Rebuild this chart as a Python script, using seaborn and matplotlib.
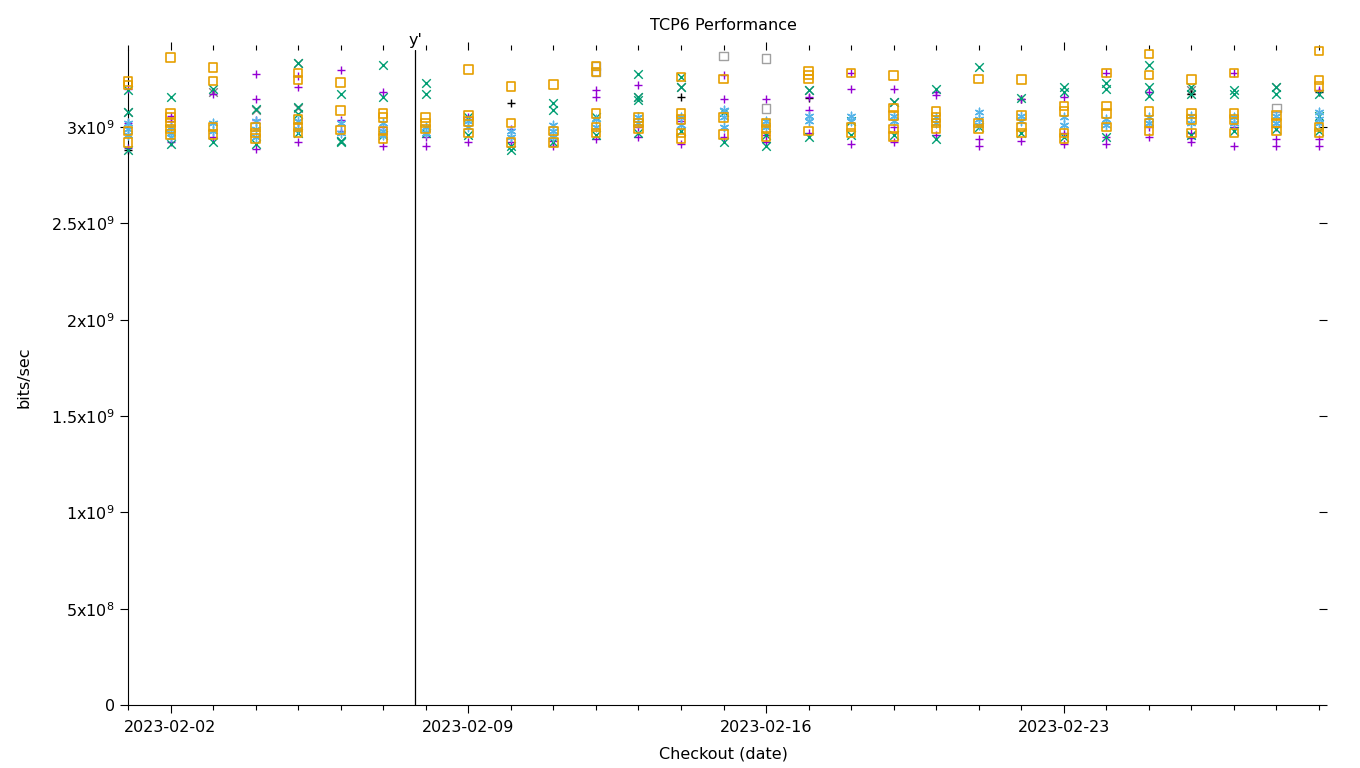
import pandas as pd
import matplotlib
matplotlib.use("Agg")
import matplotlib.pyplot as plt
import matplotlib.dates as mdates
import matplotlib.transforms as mtransforms
import seaborn as sns

# checkout dates, one column of points per day
dates = pd.date_range("2023-02-01", "2023-03-01", freq="D")

# values in units of 1e9 bits/sec, one list per day
purple_vals = [
    [3.20, 3.02, 2.89], [3.06, 3.03, 2.92], [3.17, 2.95], [3.275, 3.145, 3.036, 2.887],
    [3.265, 3.21, 3.02, 2.92], [3.294, 3.036, 2.98], [3.18, 3.00, 2.90], [2.95, 2.90],
    [3.05, 2.92], [2.99, 2.92], [2.93, 2.90], [3.19, 3.154, 2.94],
    [3.22, 3.00, 2.95], [3.03, 2.91], [3.27, 3.144, 2.95], [3.144, 2.96, 2.92],
    [3.154, 3.09, 2.97], [3.28, 3.20, 2.91], [3.20, 3.00, 2.92], [3.18, 3.166, 2.96],
    [2.94, 2.90], [3.148, 2.93], [3.154, 2.97, 2.91], [3.28, 2.95, 2.91],
    [3.18, 3.00, 2.95], [2.97, 2.945, 2.92], [3.28, 3.00, 2.90], [3.00, 2.94, 2.90],
    [3.19, 2.94, 2.90],
]
green_vals = [
    [3.19, 3.08, 2.88], [3.154, 2.91], [3.20, 2.92], [3.093, 2.91],
    [3.33, 3.105, 3.067, 2.97], [3.17, 2.93, 2.92], [3.32, 3.157, 2.96], [3.23, 3.17, 2.97],
    [3.05, 2.96], [2.90, 2.88], [3.126, 3.088, 2.92], [3.05, 2.96],
    [3.273, 3.155, 3.14, 2.97], [3.26, 3.21, 2.98], [3.08, 2.92], [2.96, 2.90],
    [3.19, 2.95], [3.03, 2.96], [3.13, 2.96], [3.20, 2.94],
    [3.31, 3.00], [3.15, 2.97], [3.21, 3.18, 2.95], [3.23, 3.20, 2.95],
    [3.32, 3.21, 3.16], [3.21, 3.17, 2.96], [3.19, 3.17, 2.98], [3.21, 3.17, 2.99],
    [3.17, 3.06, 2.98],
]
blue_vals = [
    [3.02, 2.99, 2.96], [3.00, 2.97, 2.95], [3.02, 2.98], [3.03, 2.99, 2.95],
    [3.03, 2.99], [3.02, 2.97], [3.02, 2.98, 2.96], [3.00, 2.97],
    [3.03, 3.00], [2.98, 2.95], [3.01, 2.98, 2.95], [3.04, 3.00],
    [3.05, 3.02], [3.05, 3.01], [3.09, 3.05, 3.00], [3.03, 3.00],
    [3.06, 3.03], [3.06, 3.03], [3.06, 3.03], [3.05, 3.02],
    [3.08, 3.04, 3.01], [3.06, 3.03], [3.05, 3.01], [3.04, 3.01],
    [3.05, 3.02], [3.06, 3.02], [3.05, 3.02], [3.06, 3.02],
    [3.08, 3.04, 3.02],
]
orange_vals = [
    [3.236, 3.219, 2.98, 2.92], [3.36, 3.07, 3.05, 3.02, 2.99, 2.96], [3.31, 3.24, 3.00, 2.96],
    [3.00, 2.97, 2.94], [3.28, 3.244, 3.04, 3.00, 2.97], [3.23, 3.087, 2.985],
    [3.07, 3.05, 2.98, 2.94], [3.05, 3.02, 2.99], [3.30, 3.06, 3.03, 2.97],
    [3.21, 3.02, 2.92], [3.22, 2.98, 2.92], [3.317, 3.285, 3.07, 3.00, 2.97],
    [3.05, 3.02, 2.99], [3.26, 3.07, 3.04, 2.97, 2.94], [3.25, 3.05, 2.96],
    [3.02, 2.99, 2.95], [3.29, 3.27, 3.25, 2.98], [3.28, 3.00, 2.97],
    [3.268, 3.10, 3.06, 2.99, 2.95], [3.08, 3.05, 3.02, 2.99], [3.25, 3.02, 2.99],
    [3.247, 3.06, 3.00, 2.97], [3.11, 3.08, 2.97, 2.94], [3.28, 3.11, 3.07, 3.00],
    [3.38, 3.27, 3.08, 3.02, 2.98], [3.247, 3.07, 3.04, 2.97], [3.28, 3.07, 3.04, 2.97],
    [3.06, 3.02, 2.98], [3.394, 3.245, 3.21, 3.00, 2.97],
]
# sparse extra series (day index, value)
black_days = [0, 9, 13, 16, 21, 25, 28]
black_vals = [2.88, 3.125, 3.155, 3.15, 3.148, 3.17, 3.18]
grey_x_days = [0, 2, 3, 4, 4, 5, 12, 13, 16, 18, 25, 27]
grey_x_vals = [3.08, 3.18, 3.09, 3.33, 3.10, 2.93, 3.155, 3.21, 3.19, 3.13, 3.19, 3.21]
grey_sq_days = [11, 11, 14, 15, 15, 27]
grey_sq_vals = [3.317, 3.285, 3.368, 3.356, 3.097, 3.10]

marker_date = pd.Timestamp("2023-02-07 18:00")
ytick_vals = [0, 5e8, 1e9, 1.5e9, 2e9, 2.5e9, 3e9]
ytick_labels = ["0", r"5x10$^{8}$", r"1x10$^{9}$", r"1.5x10$^{9}$",
                r"2x10$^{9}$", r"2.5x10$^{9}$", r"3x10$^{9}$"]


def per_day_frame(vals):
    rows = [(dates[i], v * 1e9) for i, day in enumerate(vals) for v in day]
    return pd.DataFrame(rows, columns=["date", "bps"])


def sparse_frame(days, vals):
    return pd.DataFrame({"date": [dates[d] for d in days], "bps": [v * 1e9 for v in vals]})


sns.set_style("ticks")
plt.rcParams["font.family"] = ["DejaVu Sans"]
plt.rcParams["font.size"] = 11.5
plt.rcParams["mathtext.default"] = "regular"
for key in ["text.color", "axes.labelcolor", "xtick.color", "ytick.color", "axes.edgecolor"]:
    plt.rcParams[key] = "black"

fig, ax = plt.subplots(figsize=(13.6, 7.68), dpi=100)
fig.subplots_adjust(left=128 / 1360, right=1319 / 1360, bottom=63 / 768, top=718 / 768)

ms = 38
common = dict(x="date", y="bps", ax=ax, s=ms, clip_on=False, zorder=3)
sns.scatterplot(data=sparse_frame(grey_sq_days, grey_sq_vals), marker="s",
                facecolor="none", edgecolor="#a0a0a0", linewidth=1, **common)
sns.scatterplot(data=sparse_frame(grey_x_days, grey_x_vals), marker="x",
                color="#808080", linewidth=1, **common)
sns.scatterplot(data=sparse_frame(black_days, black_vals), marker="+",
                color="black", linewidth=1, **common)
sns.scatterplot(data=per_day_frame(purple_vals), marker="+",
                color="#9400d3", linewidth=1, **common)
sns.scatterplot(data=per_day_frame(green_vals), marker="x",
                color="#009e73", linewidth=1, **common)
sns.scatterplot(data=per_day_frame(blue_vals), marker=(6, 2, 0),
                color="#56b4e9", linewidth=1, **common)
sns.scatterplot(data=per_day_frame(orange_vals), marker="s",
                facecolor="none", edgecolor="#e69f00", linewidth=1.2, **common)

# event marker
ax.axvline(marker_date, color="black", linewidth=0.9)
trans = mtransforms.blended_transform_factory(ax.transData, ax.transAxes)
ax.text(marker_date, 1.003, "y'", transform=trans, ha="center", va="bottom")

ax.set_xlim(dates[0], dates[-1])
ax.set_ylim(0, 3.4e9)
ax.set_yticks(ytick_vals)
ax.set_yticklabels(ytick_labels)
ax.xaxis.set_major_locator(mdates.DayLocator(bymonthday=[2, 9, 16, 23]))
ax.xaxis.set_minor_locator(mdates.DayLocator())
ax.xaxis.set_major_formatter(mdates.DateFormatter("%Y-%m-%d"))

for side in ["top", "right"]:
    ax.spines[side].set_visible(False)
for side in ["left", "bottom"]:
    ax.spines[side].set_linewidth(0.8)
ax.tick_params(axis="x", which="major", direction="out", length=6, width=0.8, top=True, pad=5)
ax.tick_params(axis="x", which="minor", direction="out", length=3.5, width=0.8, top=True)
ax.tick_params(axis="y", direction="out", length=6, width=0.8, right=True)

ax.set_xlabel("Checkout (date)", labelpad=8)
ax.set_ylabel("bits/sec", labelpad=14)
fig.text(723 / 1360, 1 - 25 / 768, "TCP6 Performance", ha="center", va="center")

fig.savefig("out.png", dpi=100)
